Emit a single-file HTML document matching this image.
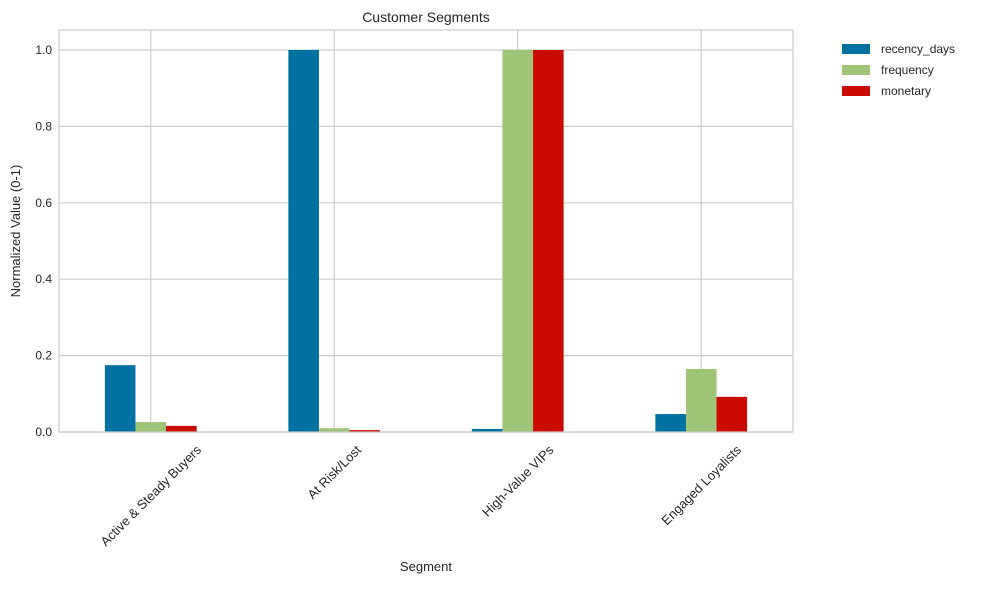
<!DOCTYPE html>
<html><head><meta charset="utf-8"><style>
body{margin:0;background:#fff;}
svg text{font-family:"Liberation Sans",Arial,sans-serif;fill:#262626;}
</style></head><body>
<svg id="chart" width="981" height="584" viewBox="0 0 981 584" xmlns="http://www.w3.org/2000/svg">
<text x="426" y="22" font-size="14" text-anchor="middle">Customer Segments</text>
<g id="grid"></g>
<g id="bars"></g>
<rect x="59" y="30" width="734" height="402" fill="none" stroke="#cccccc" stroke-width="1.2"/>
<g id="ticks"></g>
<text x="426" y="571" font-size="13" text-anchor="middle">Segment</text>
<text transform="translate(20,231) rotate(-90)" font-size="13" text-anchor="middle">Normalized Value (0-1)</text>
<g id="legend"></g>
</svg>
<script>
const categories = ["Active & Steady Buyers","At Risk/Lost","High-Value VIPs","Engaged Loyalists"];
const seriesNames = ["recency_days","frequency","monetary"];
const recency = [0.175,1.0,0.008,0.047];
const frequency = [0.026,0.010,1.0,0.165];
const monetary = [0.016,0.005,1.0,0.092];
const yTicks = [0.0,0.2,0.4,0.6,0.8,1.0];

const colors = ["#0072a2","#9fc377","#ca0b03"];
const series = [recency,frequency,monetary];
const NS="http://www.w3.org/2000/svg";
const pL=59,pR=793,pT=30,pB=432;
const yS=v=>pB-v*382;
const step=(pR-pL)/categories.length;
const xc=i=>pL+step*(i+0.5);
const bw=step/6;
function mk(tag,attrs,parent){const e=document.createElementNS(NS,tag);for(const k in attrs)e.setAttribute(k,attrs[k]);parent.appendChild(e);return e;}
const grid=document.getElementById('grid'),bars=document.getElementById('bars'),ticks=document.getElementById('ticks'),legend=document.getElementById('legend');
yTicks.forEach(t=>{
  const l=mk('line',{x1:pL,x2:pR,y1:yS(t),y2:yS(t),stroke:'#cccccc','stroke-width':1.2},grid);
  
  
  const tx=mk('text',{x:pL-7,y:yS(t)+4,'font-size':12,'text-anchor':'end'},ticks);
  tx.textContent=t.toFixed(1);
  
  
});
categories.forEach((c,i)=>{
  const l=mk('line',{x1:xc(i),x2:xc(i),y1:pT,y2:pB,stroke:'#cccccc','stroke-width':1.2},grid);
  
  
  const tx=mk('text',{'font-size':13,'text-anchor':'middle','dominant-baseline':'central'},ticks);
  tx.textContent=c;
  
  
  const L=tx.getComputedTextLength();
  const cy=pB+11+(L+13)*0.7071/2;
  tx.setAttribute('transform',`translate(${xc(i)},${cy}) rotate(-45)`);
  series.forEach((s,j)=>{
    const r=mk('rect',{x:xc(i)+(j-1.5)*bw,y:yS(s[i]),width:bw,height:pB-yS(s[i]),fill:colors[j]},bars);
    
    
  });
});
seriesNames.forEach((n,j)=>{
  const r=mk('rect',{x:842,y:44+j*21,width:28,height:10,fill:colors[j]},legend);
  
  
  const t=mk('text',{x:881,y:53+j*21,'font-size':12},legend);
  t.textContent=n;
  
  
});
</script>
</body></html>
